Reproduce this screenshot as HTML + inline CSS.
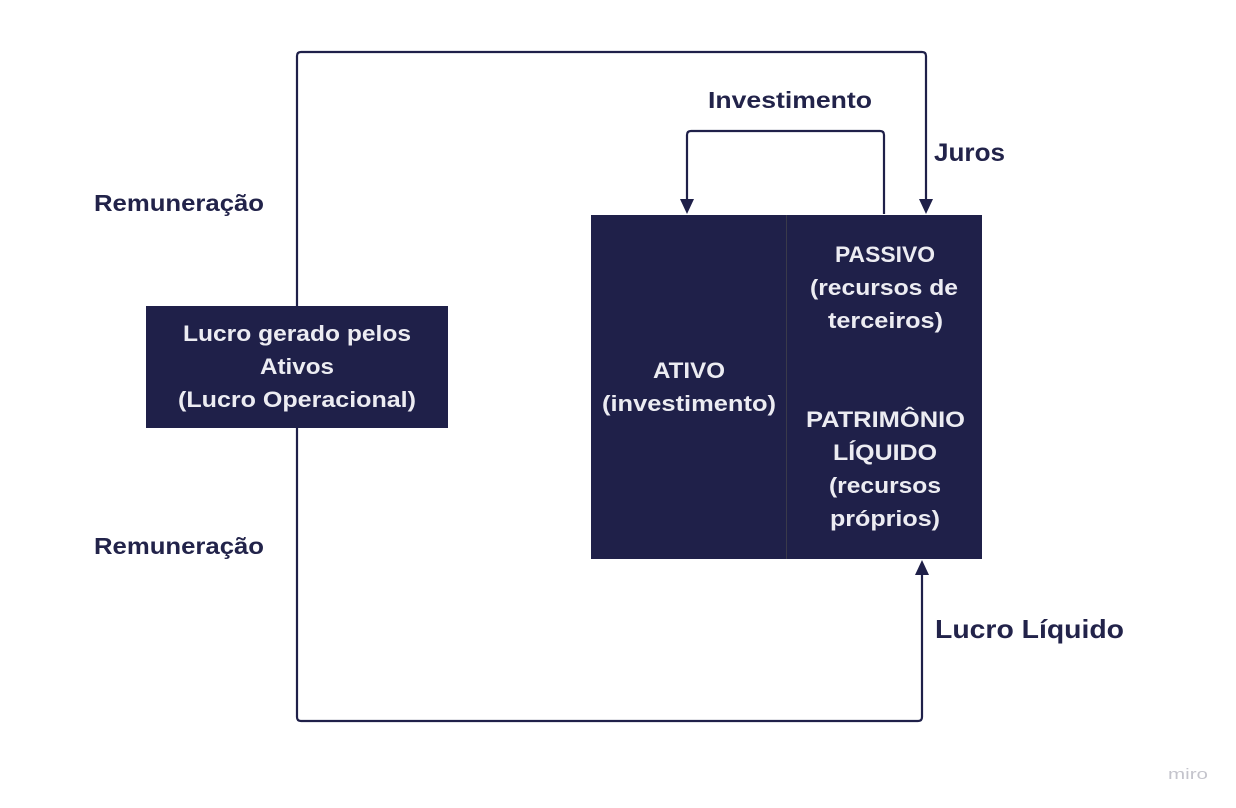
<!DOCTYPE html>
<html><head><meta charset="utf-8"><style>
html,body{margin:0;padding:0;background:#fff;}
svg{display:block;}
text{font-family:"Liberation Sans",sans-serif;font-weight:bold;}
</style></head><body>
<svg width="1236" height="808" viewBox="0 0 1236 808" xmlns="http://www.w3.org/2000/svg">
<g fill="none" stroke="#1f2049" stroke-width="2.2" stroke-linejoin="round">
<path d="M297 306 V56 Q297 52 301 52 H922 Q926 52 926 56 V200"/>
<path d="M297 428 V717 Q297 721 301 721 H918 Q922 721 922 717 V575"/>
<path d="M884 214 V135 Q884 131 880 131 H691 Q687 131 687 135 V200"/>
</g>
<g fill="#1f2049">
<polygon points="919,199 933,199 926,214"/>
<polygon points="680,199 694,199 687,214"/>
<polygon points="915,575 929,575 922,560"/>
</g>
<rect x="146" y="306" width="302" height="122" fill="#1f2049"/>
<rect x="591" y="215" width="391" height="344" fill="#1f2049"/>
<line x1="786.5" y1="215" x2="786.5" y2="559" stroke="#3a3a4a" stroke-width="1"/>
<g fill="#ececf2" font-size="22" lengthAdjust="spacingAndGlyphs">
<text x="183" y="341" textLength="228" lengthAdjust="spacingAndGlyphs">Lucro gerado pelos</text>
<text x="260" y="374" textLength="74" lengthAdjust="spacingAndGlyphs">Ativos</text>
<text x="178" y="407" textLength="238" lengthAdjust="spacingAndGlyphs">(Lucro Operacional)</text>
<text x="653" y="378" textLength="72" lengthAdjust="spacingAndGlyphs">ATIVO</text>
<text x="602" y="411" textLength="174" lengthAdjust="spacingAndGlyphs">(investimento)</text>
<text x="835" y="262" textLength="100" lengthAdjust="spacingAndGlyphs">PASSIVO</text>
<text x="810" y="295" textLength="148" lengthAdjust="spacingAndGlyphs">(recursos de</text>
<text x="828" y="328" textLength="115" lengthAdjust="spacingAndGlyphs">terceiros)</text>
<text x="806" y="427" textLength="159" lengthAdjust="spacingAndGlyphs">PATRIMÔNIO</text>
<text x="833" y="460" textLength="104" lengthAdjust="spacingAndGlyphs">LÍQUIDO</text>
<text x="829" y="493" textLength="112" lengthAdjust="spacingAndGlyphs">(recursos</text>
<text x="830" y="526" textLength="110" lengthAdjust="spacingAndGlyphs">próprios)</text>
</g>
<g fill="#22234a">
<text x="708" y="108" font-size="23" textLength="164" lengthAdjust="spacingAndGlyphs">Investimento</text>
<text x="934" y="161" font-size="25" textLength="71" lengthAdjust="spacingAndGlyphs">Juros</text>
<text x="94" y="211" font-size="23" textLength="170" lengthAdjust="spacingAndGlyphs">Remuneração</text>
<text x="94" y="554" font-size="23" textLength="170" lengthAdjust="spacingAndGlyphs">Remuneração</text>
<text x="935" y="638" font-size="26" textLength="189" lengthAdjust="spacingAndGlyphs">Lucro Líquido</text>
</g>
<text x="1168" y="779" font-size="15" fill="#c4c4cc" style="font-weight:normal" textLength="40" lengthAdjust="spacingAndGlyphs">miro</text>
</svg>
</body></html>
